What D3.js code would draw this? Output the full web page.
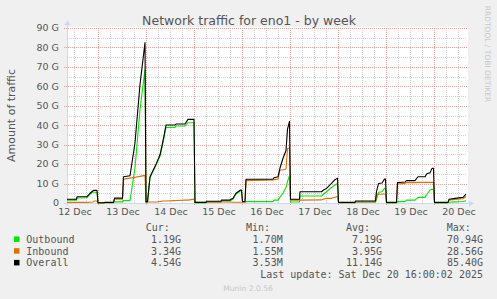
<!DOCTYPE html>
<html>
<head>
<meta charset="utf-8">
<script src="https://cdn.jsdelivr.net/npm/d3@7"></script>
<style>
  body { margin: 0; background: #f0f0f0; }
  svg { display: block; }
</style>
</head>
<body>
<svg id="chart"></svg>
<script>

const width = 497;
const height = 299;
const plot = { left: 67, top: 28, w: 400, h: 175 };

// samples, "day hh:mm" in December 2025, values in G
const times = [
  "12 08:30","12 13:15","12 13:30","12 18:30","12 20:00","12 21:30","12 22:00","12 23:30",
  "13 00:00","13 03:00","13 03:15","13 07:45","13 08:15","13 12:15","13 12:45","13 16:00",
  "13 18:30","13 21:00","13 23:30",
  "14 00:00","14 00:45","14 02:00","14 05:15","14 07:00","14 08:30","14 10:00","14 14:30",
  "14 15:00","14 19:30","14 21:00",
  "15 00:00","15 00:30","15 06:00","15 06:15","15 13:30","15 13:45","15 18:00","15 19:30",
  "15 21:00","15 23:15","15 23:45",
  "16 00:15","16 01:30","16 02:00","16 15:30","16 16:00","16 18:00","16 19:00","16 20:30",
  "16 22:00","16 22:45","16 23:45",
  "17 00:15","17 04:45","17 05:00","17 15:45","17 16:45","17 18:15","17 20:45","17 22:30",
  "17 23:45",
  "18 00:15","18 08:30","18 08:45","18 18:45","18 19:15","18 20:15","18 22:00","18 23:15",
  "18 23:45",
  "19 00:15","19 05:15","19 05:45","19 09:30","19 10:15","19 14:30","19 16:00","19 19:30",
  "19 20:30","19 22:00","19 23:00","19 23:45",
  "20 00:15","20 07:00","20 07:30","20 10:30","20 14:30","20 16:00"
];

const outbound = [
  1.5,1.5,2.6,2.7,4.5,5.8,5.5,5.5,
  0.05,0.05,0.1,0.1,0.6,0.6,1.2,1.2,
  18,48,68.5,
  0.2,0.2,13,20,24,31,38.9,38.9,
  39.6,39.6,41.3,
  41.3,0.05,0.05,0.5,0.5,1.0,1.0,2.0,
  4.6,6.3,6.3,
  0.5,0.5,0.7,0.7,1.5,1.5,3,5,
  8,11,14,
  0.5,0.5,3.6,3.6,4.5,5.8,8,9.3,
  10.1,
  0.1,0.1,0.5,0.5,1.9,5.5,5.8,7.5,
  7.5,
  0.05,0.05,0.7,0.7,1.5,1.5,2.9,2.9,
  4.5,6.7,7,7,
  0.05,0.05,0.4,0.6,0.8,1.19
];

const inbound = [
  0.3,0.3,0.3,0.3,0.4,0.5,1.0,1.0,
  0.05,0.05,0.2,0.2,1.9,1.9,12.3,12.8,
  13.2,13.7,14.2,
  0.5,0.5,0.5,0.5,0.8,1.0,1.0,1.2,
  1.3,1.5,1.5,
  2.0,0.3,0.3,0.4,0.4,0.5,0.5,0.4,
  0.4,0.4,0.4,
  0.3,0.3,11.5,11.8,12.0,12.3,17,17,
  17.5,28,28.3,
  1.5,1.5,1.5,1.6,2.0,2.4,2.4,3.0,
  3.3,
  0.2,0.2,0.5,0.5,4.4,4.5,4.5,4.6,
  4.6,
  0.2,0.2,9.8,10.1,10.5,10.5,10.6,10.6,
  10.6,10.6,10.6,10.6,
  0.2,0.2,1.5,1.8,2.2,3.34
];

const overall = [
  1.9,1.9,3.2,3.3,5.0,6.3,6.5,6.5,
  0.1,0.1,0.3,0.3,2.5,2.5,13.5,14.0,
  31,61,82.5,
  0.7,0.7,13.5,20.5,24.8,32,40.1,40.1,
  40.6,40.6,43,
  43,0.3,0.3,0.9,0.9,1.5,1.5,2.4,
  5.0,6.7,6.7,
  0.8,0.8,12.2,12.2,13.0,13.5,18,23,
  27,38,42,
  1.9,1.9,5.8,5.8,6.7,7.5,10.1,12,
  12.8,
  0.3,0.3,1.0,1.0,6.0,10.0,10.3,12.3,
  12.3,
  0.3,0.3,10.5,10.8,11.5,11.5,13.5,13.5,
  15.2,15.5,17.8,17.8,
  0.3,0.3,1.9,2.4,2.9,4.54
];

const yTicks = [0, 10, 20, 30, 40, 50, 60, 70, 80, 90];

const seriesNames = ["Outbound", "Inbound", "Overall"];
const seriesColors = ["#00e800", "#e07000", "#000000"];
const curVals = ["1.19G", "3.34G", "4.54G"];
const minVals = ["1.70M", "1.55M", "3.53M"];
const avgVals = ["7.19G", "3.95G", "11.14G"];
const maxVals = ["70.94G", "28.56G", "85.40G"];

const parseTime = d3.timeParse("%Y-%m-%d %H:%M");
const toDate = s => parseTime("2025-12-" + s);
const dates = times.map(toDate);

const svg = d3.select("#chart")
  .attr("width", width)
  .attr("height", height)
  .style("font-family", "'DejaVu Sans', sans-serif");

svg.append("rect").attr("width", width).attr("height", height).attr("fill", "#f0f0f0");

const x = d3.scaleTime()
  .domain([toDate("12 08:30"), toDate("20 16:30")])
  .range([plot.left, plot.left + plot.w]);

const y = d3.scaleLinear()
  .domain([0, 90])
  .range([plot.top + plot.h, plot.top]);

const px = v => Math.round(v) + 0.5;

// plot background
svg.append("rect")
  .attr("x", plot.left).attr("y", plot.top - 1)
  .attr("width", plot.w + 1).attr("height", plot.h + 1)
  .attr("fill", "#ffffff");

const grid = svg.append("g");
const [t0, t1] = x.domain();

// minor grid
grid.selectAll("line.vmin")
  .data(d3.timeHour.every(6).range(t0, t1))
  .enter().append("line")
  .attr("x1", d => px(x(d))).attr("x2", d => px(x(d)))
  .attr("y1", plot.top).attr("y2", plot.top + plot.h)
  .attr("stroke", "#d2d2d2").attr("stroke-dasharray", "1,1");

grid.selectAll("line.hmin")
  .data(d3.range(5, 90, 10))
  .enter().append("line")
  .attr("x1", plot.left).attr("x2", plot.left + plot.w)
  .attr("y1", d => px(y(d))).attr("y2", d => px(y(d)))
  .attr("stroke", "#d2d2d2").attr("stroke-dasharray", "1,1");

// major grid
const days = d3.timeDay.range(t0, t1);
grid.selectAll("line.vmaj")
  .data(days)
  .enter().append("line")
  .attr("x1", d => px(x(d))).attr("x2", d => px(x(d)))
  .attr("y1", plot.top).attr("y2", plot.top + plot.h + 3)
  .attr("stroke", "#e6a0a0").attr("stroke-dasharray", "1,1");

grid.selectAll("line.hmaj")
  .data(yTicks.filter(d => d > 0))
  .enter().append("line")
  .attr("x1", plot.left - 3).attr("x2", plot.left + plot.w)
  .attr("y1", d => px(y(d))).attr("y2", d => px(y(d)))
  .attr("stroke", "#e6a0a0").attr("stroke-dasharray", "1,1");

// axes
const axisCol = "#cfd6f8";
const y0 = px(y(0));
svg.append("line")
  .attr("x1", plot.left - 3).attr("x2", plot.left + plot.w + 3)
  .attr("y1", y0).attr("y2", y0)
  .attr("stroke", axisCol);
svg.append("line")
  .attr("x1", px(plot.left)).attr("x2", px(plot.left))
  .attr("y1", plot.top + plot.h + 3).attr("y2", plot.top - 4)
  .attr("stroke", axisCol);
svg.append("path")
  .attr("d", `M${plot.left + plot.w + 2},${y0 - 3}L${plot.left + plot.w + 7},${y0}L${plot.left + plot.w + 2},${y0 + 3}Z`)
  .attr("fill", axisCol);
svg.append("path")
  .attr("d", `M${px(plot.left) - 3},${plot.top - 3}L${px(plot.left)},${plot.top - 8}L${px(plot.left) + 3},${plot.top - 3}Z`)
  .attr("fill", axisCol);

// tick labels
svg.append("g").selectAll("text")
  .data(yTicks)
  .enter().append("text")
  .attr("x", 59)
  .attr("y", d => y(d))
  .attr("dy", "0.35em")
  .attr("text-anchor", "end")
  .attr("font-size", "9.5px")
  .attr("fill", "#555")
  .text(d => d === 0 ? "0" : d + " G");

const dayFmt = d3.timeFormat("%d %b");
svg.append("g").selectAll("text")
  .data(d3.timeDay.range(d3.timeDay.floor(t0), t1).map(d => d3.timeHour.offset(d, 12)).filter(d => d >= t0 && d <= t1))
  .enter().append("text")
  .attr("x", d => x(d) + 1)
  .attr("y", 215)
  .attr("text-anchor", "middle")
  .attr("font-size", "9.5px")
  .attr("fill", "#555")
  .text(d => dayFmt(d));

// series
const line = vals => d3.line()
  .x((d, i) => x(dates[i]))
  .y(d => y(d))(vals);

const lines = svg.append("g").attr("fill", "none").attr("stroke-width", 1.1)
  .attr("stroke-linejoin", "round");
[outbound, inbound, overall].forEach((vals, i) => {
  lines.append("path")
    .attr("d", line(vals))
    .attr("stroke", seriesColors[i]);
});

// titles
svg.append("text")
  .attr("x", 249).attr("y", 24.5)
  .attr("text-anchor", "middle")
  .attr("font-size", "12.5px")
  .attr("fill", "#555")
  .text("Network traffic for eno1 - by week");

svg.append("text")
  .attr("transform", `translate(11,${plot.top + plot.h / 2}) rotate(-90)`)
  .attr("dy", "0.35em")
  .attr("text-anchor", "middle")
  .attr("font-size", "11px")
  .attr("fill", "#555")
  .text("Amount of traffic");

svg.append("text")
  .attr("transform", "translate(488,54) rotate(90)")
  .attr("dy", "0.35em")
  .attr("text-anchor", "middle")
  .attr("font-size", "7.5px")
  .attr("fill", "#c8c8c8")
  .text("RRDTOOL / TOBI OETIKER");

// legend
const legend = svg.append("g")
  .style("font-family", "'DejaVu Sans Mono', monospace")
  .attr("font-size", "10px")
  .attr("fill", "#555");

const cols = [
  { head: "Cur:", hx: 145.7, vx: 181, vals: curVals },
  { head: "Min:", hx: 246, vx: 282.7, vals: minVals },
  { head: "Avg:", hx: 346, vx: 382, vals: avgVals },
  { head: "Max:", hx: 446.7, vx: 483, vals: maxVals }
];
const rowY = [243, 254.7, 266.4];

cols.forEach(c => {
  legend.append("text").attr("x", c.hx).attr("y", 230.5).text(c.head);
  c.vals.forEach((v, i) => {
    legend.append("text")
      .attr("x", c.vx).attr("y", rowY[i])
      .attr("text-anchor", "end")
      .text(v);
  });
});

seriesNames.forEach((name, i) => {
  legend.append("rect")
    .attr("x", 14).attr("y", rowY[i] - 6.5)
    .attr("width", 5.5).attr("height", 5.5)
    .attr("fill", seriesColors[i]);
  legend.append("text")
    .attr("x", 26.3).attr("y", rowY[i])
    .text(name);
});

legend.append("text")
  .attr("x", 483).attr("y", 277.5)
  .attr("text-anchor", "end")
  .text("Last update: Sat Dec 20 16:00:02 2025");

svg.append("text")
  .attr("x", 248).attr("y", 291)
  .attr("text-anchor", "middle")
  .attr("font-size", "7.6px")
  .attr("fill", "#c8c8c8")
  .text("Munin 2.0.56");

</script>
</body>
</html>
